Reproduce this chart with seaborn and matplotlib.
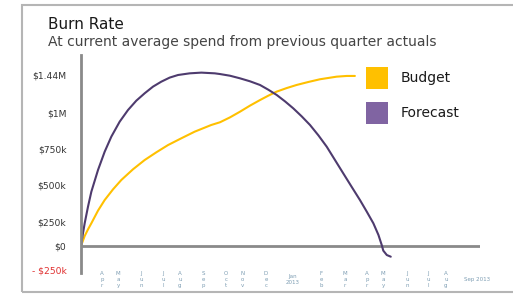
import matplotlib
matplotlib.use("Agg")
import matplotlib.pyplot as plt
import seaborn as sns
import pandas as pd
from matplotlib.patches import Patch, Rectangle

# ---- data (x in months from start, y in dollars) ----
budget_x = [0.0, 0.167, 0.318, 0.47, 0.773, 1.076, 1.455, 1.833, 2.364, 2.894, 3.424, 3.955, 4.56,
            5.17, 5.92, 6.318, 6.77, 7.227, 7.68, 8.136, 8.515, 8.894, 9.35, 9.8, 10.33, 10.86,
            11.62, 12.08, 12.45]
budget_y = [0, 84e3, 140e3, 191e3, 298e3, 387e3, 477e3, 556e3, 646e3, 724e3, 789e3, 850e3, 907e3,
            963e3, 1019e3, 1042e3, 1083e3, 1131e3, 1182e3, 1229e3, 1266e3, 1300e3, 1330e3, 1356e3,
            1381e3, 1404e3, 1426e3, 1432e3, 1432e3]

forecast_x = [0.0, 0.09, 0.167, 0.318, 0.47, 0.773, 1.076, 1.379, 1.758, 2.136, 2.515, 2.894, 3.273,
              3.652, 4.03, 4.41, 4.94, 5.47, 6.08, 6.318, 6.77, 7.227, 7.68, 8.136, 8.515, 8.894,
              9.273, 9.65, 10.03, 10.41, 10.79, 11.17, 11.545, 11.92, 12.3, 12.68, 12.99, 13.29,
              13.52, 13.67, 13.74, 13.9, 14.08]
forecast_y = [0, 107e3, 191e3, 331e3, 457e3, 640e3, 794e3, 921e3, 1047e3, 1145e3, 1224e3, 1286e3,
              1342e3, 1384e3, 1418e3, 1440e3, 1454e3, 1460e3, 1454e3, 1448e3, 1434e3, 1412e3, 1387e3,
              1356e3, 1316e3, 1272e3, 1218e3, 1159e3, 1092e3, 1019e3, 932e3, 836e3, 724e3, 612e3,
              499e3, 387e3, 289e3, 191e3, 93e3, 8e3, -39e3, -76e3, -90e3]

series_names = ["Budget", "Forecast"]

ytick_vals = [-202e3, 0, 202e3, 514e3, 817e3, 1120e3, 1440e3]
ytick_labels = ["- $250k", "$0", "$250k", "$500k", "$750k", "$1M", "$1.44M"]

xtick_vals = [0.955, 1.68, 2.73, 3.73, 4.5, 5.55, 6.59, 7.36, 8.41, 9.64, 10.91, 12.0, 13.0, 13.73,
              14.82, 15.77, 16.59, 18.0]
xtick_labels = ["A\np\nr", "M\na\ny", "J\nu\nn", "J\nu\nl", "A\nu\ng", "S\ne\np", "O\nc\nt", "N\no\nv",
                "D\ne\nc", "Jan\n2013", "F\ne\nb", "M\na\nr", "A\np\nr", "M\na\ny", "J\nu\nn", "J\nu\nl",
                "A\nu\ng", "Sep 2013"]

title = "Burn Rate"
subtitle = "At current average spend from previous quarter actuals"

# ---- build table ----
df = pd.concat([
    pd.DataFrame({"x": budget_x, "y": budget_y, "series": series_names[0]}),
    pd.DataFrame({"x": forecast_x, "y": forecast_y, "series": series_names[1]}),
], ignore_index=True)

sns.set_theme(style="white")
plt.rcParams["font.family"] = ["DejaVu Sans"]

W, H = 513, 294
fig = plt.figure(figsize=(W / 100, H / 100), dpi=100)
fig.patch.set_facecolor("white")

def fx(px):
    return px / W

def fy(py):
    return 1 - py / H

ax_left, ax_right, ax_top, ax_bottom = 81, 480, 55, 273
ax = fig.add_axes([fx(ax_left), fy(ax_bottom), (ax_right - ax_left) / W, (ax_bottom - ax_top) / H])
ax.set_facecolor("none")

line_colors = {"Budget": "#FFC000", "Forecast": "#4E3B6E"}
sns.lineplot(data=df, x="x", y="y", hue="series", palette=line_colors, estimator=None,
             sort=False, linewidth=1.5, legend=False, ax=ax)
for ln in ax.get_lines():
    ln.set_solid_joinstyle("round")
    ln.set_solid_capstyle("round")

px_per_unit = 22.0
dollars_per_px = 8421.0
ax.set_xlim(0, (ax_right - ax_left) / px_per_unit)
ax.set_ylim((246 - ax_bottom) * dollars_per_px, (246 - ax_top) * dollars_per_px)

for s in ["top", "right", "bottom"]:
    ax.spines[s].set_visible(False)
ax.spines["left"].set_color("#8a8a8a")
ax.spines["left"].set_linewidth(2.0)
ax.axhline(0, color="#8a8a8a", linewidth=2.0, zorder=1)

ax.set_xlabel("")
ax.set_ylabel("")
ax.set_yticks(ytick_vals)
ax.set_yticklabels(ytick_labels)
ax.tick_params(axis="y", length=0, pad=10.5, labelsize=6.6, labelcolor="#333333")
ax.get_yticklabels()[0].set_color("#e03030")

ax.set_xticks(xtick_vals)
ax.set_xticklabels(xtick_labels)
ax.tick_params(axis="x", length=0, pad=4.5, labelsize=4.0, labelcolor="#7d9db3")
for lab in ax.get_xticklabels():
    lab.set_verticalalignment("center")
    lab.set_linespacing(1.25)

# legend
handles = [Patch(facecolor="#FFC000", edgecolor="none"), Patch(facecolor="#8064A2", edgecolor="none")]
leg = ax.legend(handles=handles, labels=series_names, loc="upper left",
                bbox_to_anchor=(fx(366), fy(67)), bbox_transform=fig.transFigure,
                frameon=False, fontsize=10, handlelength=1.55, handleheight=2.05,
                handletextpad=0.95, labelspacing=0.95, borderpad=0, borderaxespad=0)
for t in leg.get_texts():
    t.set_color("#1a1a1a")

# frame
fig.add_artist(Rectangle((fx(22), fy(292)), 1.2, (292 - 5) / H, transform=fig.transFigure,
                         fill=False, edgecolor="#b5b5b5", linewidth=1.5))

fig.text(fx(48), fy(29), title, fontsize=11, color="#1a1a1a", va="baseline", ha="left")
fig.text(fx(48), fy(46), subtitle, fontsize=10, color="#444444", va="baseline", ha="left")

fig.savefig("out.png", dpi=100, facecolor="white")
